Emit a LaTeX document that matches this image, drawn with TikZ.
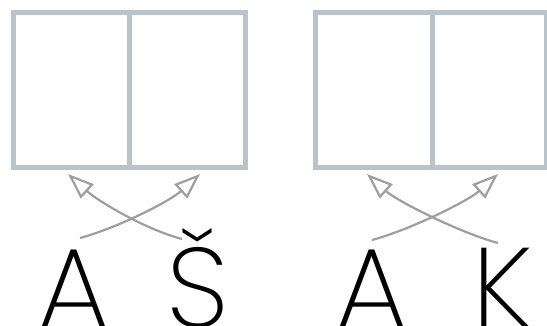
\documentclass[tikz,border=0pt]{standalone}
\usepackage{fontspec}
\setmainfont{Poppins}[UprightFont=* ExtraLight]
\usetikzlibrary{arrows.meta}

\definecolor{framegray}{RGB}{186,195,202}
\definecolor{arrowgray}{RGB}{158,158,158}

\tikzset{
  cell/.style={draw=framegray, line width=5pt},
  swap/.style={draw=arrowgray, line width=2.2pt,
    -{Triangle[open, length=26pt, width=19pt]}},
  letter/.style={anchor=base, inner sep=0pt, font=\fontsize{113}{113}\selectfont}
}

\begin{document}
\begin{tikzpicture}[x=1pt,y=-1pt]
\useasboundingbox (0,0) rectangle (547,326);

% left pair of cells
\begin{scope}
\pgfmathsetmacro{\ltop}{12.5};
\pgfmathsetmacro{\lbot}{167.5};

\draw[cell] (13.5,\ltop) rectangle (129,\lbot);
\draw[cell] (129,\ltop) rectangle (245.5,\lbot);

\node[letter] (la) at (74,327) {A};
\node[letter] (ls) at (198,327) {Š};

\coordinate (la-from) at (80,238);
\coordinate (la-to) at (200,174);
\coordinate (ls-from) at (182,239);
\coordinate (ls-to) at (68,174);

\draw[swap] (la-from) .. controls (118.6,227.6) and (170.3,200.8) .. (la-to);
\draw[swap] (ls-from) .. controls (143.4,228.6) and (97.7,200.8) .. (ls-to);
\end{scope}

% right pair of cells
\begin{scope}
\pgfmathsetmacro{\rtop}{12.5};
\pgfmathsetmacro{\rbot}{167.5};

\draw[cell] (315.5,\rtop) rectangle (432,\rbot);
\draw[cell] (432,\rtop) rectangle (546.5,\rbot);

\node[letter] (ra) at (371.5,327) {A};
\node[letter] (rk) at (502,327) {K};

\coordinate (ra-from) at (372,240);
\coordinate (ra-to) at (498,174);
\coordinate (rk-from) at (498,243);
\coordinate (rk-to) at (367,174);

\draw[swap] (ra-from) .. controls (410.6,229.6) and (468.3,200.8) .. (ra-to);
\draw[swap] (rk-from) .. controls (459.4,232.6) and (396.7,200.8) .. (rk-to);
\end{scope}

\end{tikzpicture}
\end{document}
